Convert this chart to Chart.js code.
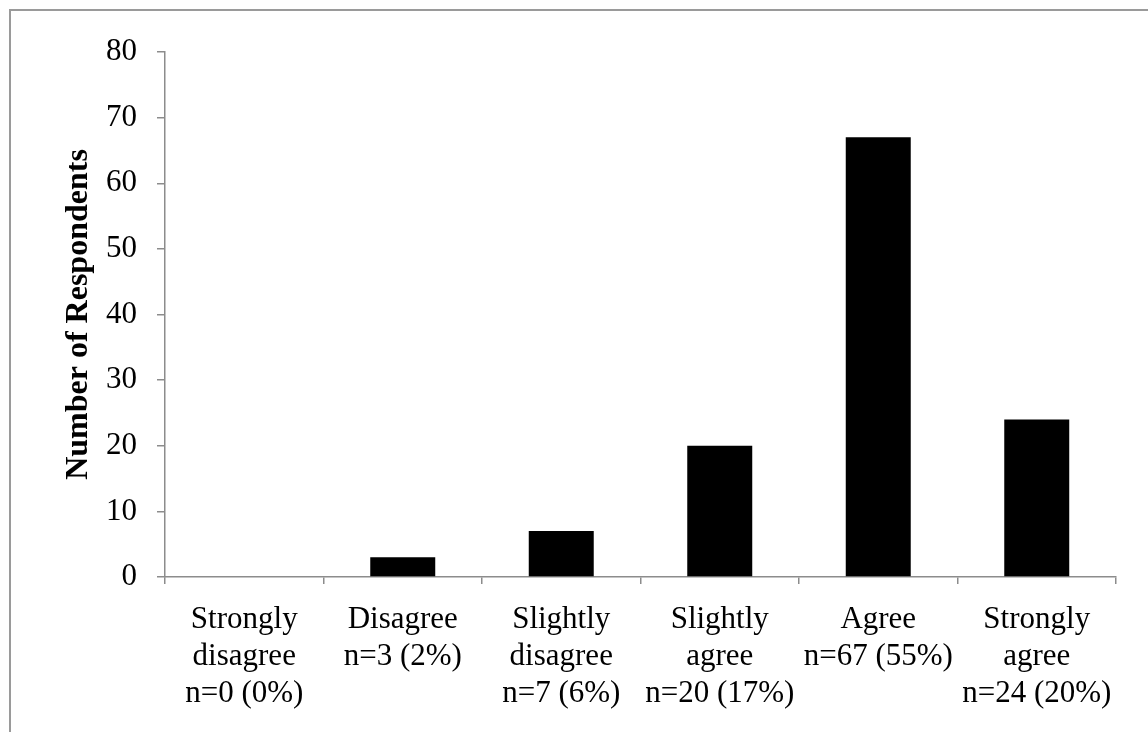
<!DOCTYPE html>
<html>
<head>
<meta charset="utf-8">
<script src="https://cdn.jsdelivr.net/npm/chart.js@4"></script>
<style>
  html, body { margin: 0; padding: 0; background: #fff; }
  #wrap { position: relative; width: 1148px; height: 732px; }
  #frame {
    position: absolute; left: 9px; top: 9px; right: 0; bottom: 0;
    border-top: 2px solid #9a9a9a; border-left: 2px solid #9a9a9a;
    pointer-events: none;
  }
</style>
</head>
<body>
<div id="wrap">
  <canvas id="barChart" width="1148" height="732"></canvas>
  <div id="frame"></div>
</div>
<script>
// responses per answer
const categories = [
    ['Strongly', 'disagree', 'n=0 (0%)'],
    ['Disagree', 'n=3 (2%)'],
    ['Slightly', 'disagree', 'n=7 (6%)'],
    ['Slightly', 'agree', 'n=20 (17%)'],
    ['Agree', 'n=67 (55%)'],
    ['Strongly', 'agree', 'n=24 (20%)']
];
const respondents = [0, 3, 7, 20, 67, 24];
const yMax = 80;
const yStep = 10;

const serif = '"Liberation Serif", "Times New Roman", serif';
const axisGray = '#8c8c8c';

var ctx = document.getElementById('barChart');

var myChart = new Chart(ctx, {
    type: 'bar',
    data: {
        labels: categories,
        datasets: [{
            label: 'Number of Respondents',
            data: respondents,
            backgroundColor: '#000',
            borderWidth: 0,
            barPercentage: 0.41,
            categoryPercentage: 1
        }]
    },
    options: {
        responsive: false,
        animation: false,
        layout: {padding: {top: 52, right: 32, bottom: 0, left: 0}},
        plugins: {
            legend: {display: false},
            tooltip: {enabled: false}
        },
        scales: {
            x: {
                afterFit: function (scale) { scale.height = 155; },
                grid: {
                    display: true,
                    offset: true,
                    drawOnChartArea: false,
                    drawTicks: true,
                    tickLength: 7,
                    color: axisGray,
                    lineWidth: 1.5
                },
                border: {display: true, color: axisGray, width: 1.5},
                ticks: {
                    color: '#000',
                    padding: 18,
                    maxRotation: 0,
                    autoSkip: false,
                    font: {family: serif, size: 31, lineHeight: 1.18}
                }
            },
            y: {
                min: 0,
                max: yMax,
                afterFit: function (scale) { scale.width = 165; },
                grid: {
                    display: true,
                    drawOnChartArea: false,
                    drawTicks: true,
                    tickLength: 8,
                    color: axisGray,
                    lineWidth: 1.5
                },
                border: {display: true, color: axisGray, width: 1.5},
                ticks: {
                    stepSize: yStep,
                    color: '#000',
                    padding: 20,
                    font: {family: serif, size: 31}
                },
                title: {
                    display: true,
                    text: 'Number of Respondents',
                    color: '#000',
                    padding: {top: 60, bottom: 0},
                    font: {family: serif, size: 32, weight: 'bold'}
                }
            }
        }
    }
});
</script>
</body>
</html>
